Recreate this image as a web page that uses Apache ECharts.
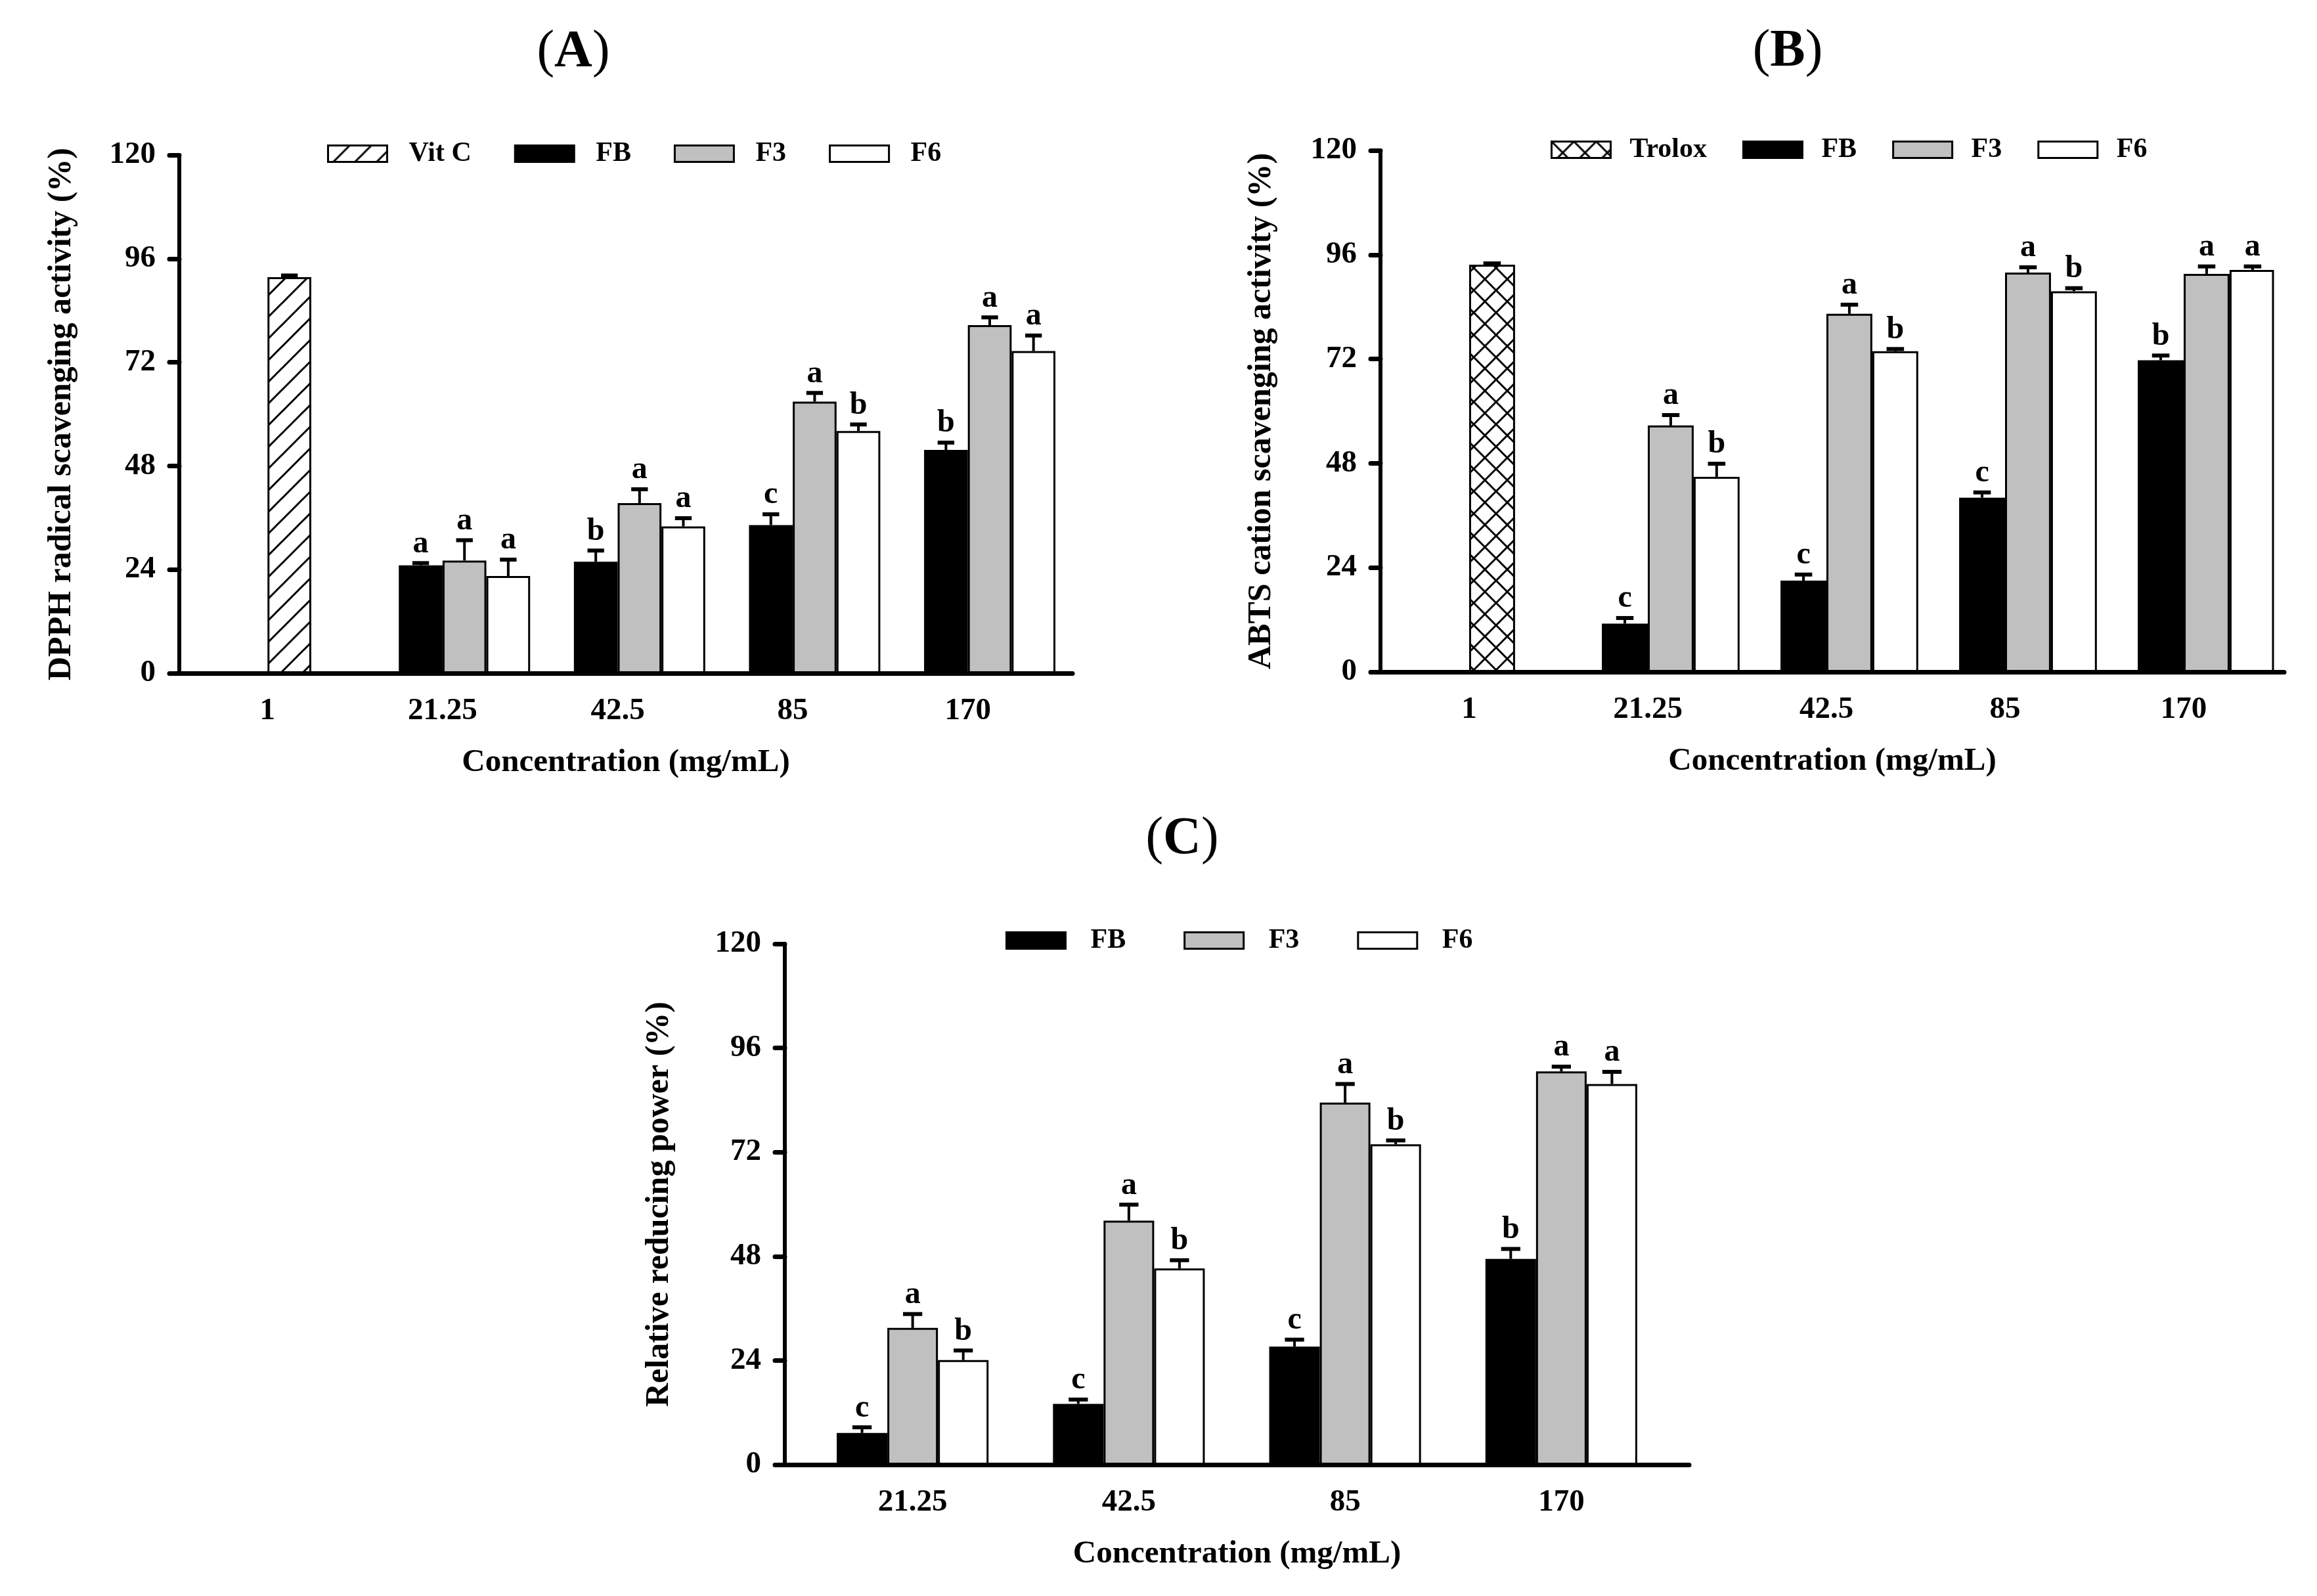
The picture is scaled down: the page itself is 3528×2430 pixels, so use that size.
<!DOCTYPE html>
<html><head><meta charset="utf-8">
<script src="https://cdn.jsdelivr.net/npm/echarts@6/dist/echarts.min.js"></script>
<style>html,body{margin:0;padding:0;background:#fff}#c{width:3528px;height:2430px}</style>
</head><body><div id="c"></div>
<script>
// ---------- DATA ----------
const catsAB = ['1', '21.25', '42.5', '85', '170'];
const catsC = ['21.25', '42.5', '85', '170'];
const yMin = 0, yMax = 120, yStep = 24;

// Panel A - DPPH
const vitC_A = [91.7];      const vitC_A_err = [0.4];
const fb_A = [25.0, 25.8, 34.3, 51.7];  const fb_A_err = [0.5, 2.6, 2.5, 1.7];  const fb_A_let = ['a','b','c','b'];
const f3_A = [26.1, 39.4, 62.9, 80.6];  const f3_A_err = [4.7, 3.2, 2.0, 1.8];  const f3_A_let = ['a','a','a','a'];
const f6_A = [22.5, 34.0, 56.1, 74.6];  const f6_A_err = [3.8, 1.9, 1.5, 3.6];  const f6_A_let = ['a','a','b','a'];

// Panel B - ABTS
const trolox_B = [93.7];    const trolox_B_err = [0.3];
const fb_B = [11.1, 21.0, 40.1, 71.7];  const fb_B_err = [1.3, 1.4, 1.2, 1.1];  const fb_B_let = ['c','c','c','b'];
const f3_B = [56.7, 82.4, 91.9, 91.6];  const f3_B_err = [2.4, 2.1, 1.2, 1.7];  const f3_B_let = ['a','a','a','a'];
const f6_B = [44.9, 73.8, 87.6, 92.5];  const f6_B_err = [3.0, 0.5, 0.7, 0.8];  const f6_B_let = ['b','b','b','a'];

// Panel C - reducing power
const fb_C = [7.3, 14.0, 27.2, 47.4];   const fb_C_err = [1.3, 1.0, 1.6, 2.3];  const fb_C_let = ['c','c','c','b'];
const f3_C = [31.5, 56.2, 83.4, 90.6];  const f3_C_err = [3.2, 3.7, 4.3, 1.1];  const f3_C_let = ['a','a','a','a'];
const f6_C = [24.1, 45.2, 73.8, 87.7];  const f6_C_err = [2.2, 1.9, 0.9, 2.8];  const f6_C_let = ['b','b','b','a'];

// ---------- STYLE ----------
const FONT = 'Liberation Serif';
function hatchPattern(kind) {
  const s = kind === 'cross' ? 34 : 33;
  const c = document.createElement('canvas'); c.width = s; c.height = s;
  const g = c.getContext('2d');
  g.fillStyle = '#fff'; g.fillRect(0, 0, s, s);
  g.strokeStyle = '#000'; g.lineWidth = 3;
  const ln = (a, b, d, e) => { g.beginPath(); g.moveTo(a, b); g.lineTo(d, e); g.stroke(); };
  ln(0, s, s, 0); ln(-2, 2, 2, -2); ln(s - 2, s + 2, s + 2, s - 2);
  if (kind === 'cross') { ln(0, 0, s, s); ln(s - 2, -2, s + 2, 2); ln(-2, s - 2, 2, s + 2); }
  return { image: c, repeat: 'repeat' };
}
const styFB = { color: '#000', borderColor: '#000', borderWidth: 2 };
const styF3 = { color: '#c0c0c0', borderColor: '#000', borderWidth: 3 };
const styF6 = { color: '#fff', borderColor: '#000', borderWidth: 3 };
const styVit = { color: hatchPattern('diag'), borderColor: '#000', borderWidth: 3 };
const styTro = { color: hatchPattern('cross'), borderColor: '#000', borderWidth: 3 };

const txt = (size, w) => ({ fontFamily: FONT, fontWeight: w || 'bold', fontSize: size, color: '#000' });

const panels = [
  { outer: { left: 273, top: 236, width: 1360, height: 789 }, inner: { left: 274, top: 236, width: 1333, height: 789 },
    cats: catsAB, yName: 'DPPH radical scavenging activity (%)', yGap: 154, frac: 0.25 },
  { outer: { left: 2102, top: 229, width: 1376, height: 794 }, inner: { left: 2101, top: 229, width: 1360, height: 794 },
    cats: catsAB, yName: 'ABTS cation scavenging activity (%)', yGap: 156, frac: 0.257 },
  { outer: { left: 1195, top: 1437, width: 1377, height: 793 }, inner: { left: 1225, top: 1437, width: 1317, height: 793 },
    cats: catsC, yName: 'Relative reducing power (%)', yGap: 166, frac: 0.234 }
];

const grid = [], xAxis = [], yAxis = [], series = [];
panels.forEach((p, i) => {
  grid.push(Object.assign({ containLabel: false }, p.outer));
  grid.push(Object.assign({ containLabel: false }, p.inner));
  xAxis.push({ gridIndex: 2 * i, type: 'value', min: 0, max: 1, z: 10,
    axisLine: { show: true, onZero: false, lineStyle: { color: '#000', width: 7, cap: 'round' } },
    axisTick: { show: false }, axisLabel: { show: false }, splitLine: { show: false },
    name: 'Concentration (mg/mL)', nameLocation: 'middle', nameGap: 112, nameTextStyle: txt(49) });
  xAxis.push({ gridIndex: 2 * i + 1, type: 'category', data: p.cats, boundaryGap: true,
    axisLine: { show: false }, axisTick: { show: false },
    axisLabel: Object.assign({ margin: 34, interval: 0 }, txt(47)) });
  yAxis.push({ gridIndex: 2 * i, type: 'value', min: yMin, max: yMax, interval: yStep, z: 10,
    axisLine: { show: true, lineStyle: { color: '#000', width: 6 } },
    axisTick: { show: true, length: 15, lineStyle: { color: '#000', width: 7, cap: 'round' } },
    axisLabel: Object.assign({ margin: 36 }, txt(47)), splitLine: { show: false },
    name: p.yName, nameLocation: 'middle', nameGap: p.yGap, nameTextStyle: txt(50) });
  yAxis.push({ gridIndex: 2 * i + 1, type: 'value', min: yMin, max: yMax, show: false, splitLine: { show: false } });
});

function barSeries(name, axis, data, style, extra) {
  return Object.assign({ type: 'bar', name, xAxisIndex: axis, yAxisIndex: axis, data,
    barWidth: panels[(axis - 1) / 2].frac * 100 + '%', barGap: '0%', itemStyle: style, z: 2,
    animation: false, emphasis: { disabled: true } }, extra || {});
}
const dash = n => Array(n).fill('-');

function errSeries(axis, frac, items) {
  return { type: 'custom', xAxisIndex: axis, yAxisIndex: axis, z: 5, animation: false, silent: true,
    data: items.map(it => [it.cat, it.val + it.err]),
    renderItem: function (params, api) {
      const it = items[params.dataIndex];
      const band = api.size([1, 0])[0];
      const bw = band * frac;
      const p0 = api.coord([it.cat, it.val]);
      const p1 = api.coord([it.cat, it.val + it.err]);
      const x = p0[0] + it.slot * bw;
      const cw = bw * 0.38;
      const ch = [
        { type: 'line', shape: { x1: x, y1: p0[1], x2: x, y2: p1[1] }, style: { stroke: '#000', lineWidth: 4 } },
        { type: 'line', shape: { x1: x - cw / 2, y1: p1[1], x2: x + cw / 2, y2: p1[1] }, style: { stroke: '#000', lineWidth: 6 } }
      ];
      if (it.letter) ch.push({ type: 'text', style: { text: it.letter, x: x, y: p1[1] - 5, align: 'center', verticalAlign: 'bottom',
        fontFamily: FONT, fontWeight: 'bold', fontSize: 48, fill: '#000' } });
      return { type: 'group', children: ch };
    } };
}
function buildItems(groups, catOffset) {
  const out = [];
  groups.forEach(g => g.vals.forEach((v, k) => out.push({ cat: k + catOffset, val: v, err: g.errs[k], slot: g.slot, letter: g.lets ? g.lets[k] : '' })));
  return out;
}

// Panel A
series.push(barSeries('', 1, dash(5), { color: 'transparent' }));
series.push(barSeries('FB', 1, ['-'].concat(fb_A), styFB));
series.push(barSeries('Vit C', 1, vitC_A.concat(dash(4)), styVit, { stack: 'midA' }));
series.push(barSeries('F3', 1, ['-'].concat(f3_A), styF3, { stack: 'midA' }));
series.push(barSeries('F6', 1, ['-'].concat(f6_A), styF6));
series.push(errSeries(1, panels[0].frac,
  buildItems([{ vals: vitC_A, errs: vitC_A_err, slot: 0.5 }], 0).concat(buildItems([
    { vals: fb_A, errs: fb_A_err, lets: fb_A_let, slot: -0.5 },
    { vals: f3_A, errs: f3_A_err, lets: f3_A_let, slot: 0.5 },
    { vals: f6_A, errs: f6_A_err, lets: f6_A_let, slot: 1.5 }], 1))));

// Panel B
series.push(barSeries('', 3, dash(5), { color: 'transparent' }));
series.push(barSeries('FB', 3, ['-'].concat(fb_B), styFB));
series.push(barSeries('Trolox', 3, trolox_B.concat(dash(4)), styTro, { stack: 'midB' }));
series.push(barSeries('F3', 3, ['-'].concat(f3_B), styF3, { stack: 'midB' }));
series.push(barSeries('F6', 3, ['-'].concat(f6_B), styF6));
series.push(errSeries(3, panels[1].frac,
  buildItems([{ vals: trolox_B, errs: trolox_B_err, slot: 0.5 }], 0).concat(buildItems([
    { vals: fb_B, errs: fb_B_err, lets: fb_B_let, slot: -0.5 },
    { vals: f3_B, errs: f3_B_err, lets: f3_B_let, slot: 0.5 },
    { vals: f6_B, errs: f6_B_err, lets: f6_B_let, slot: 1.5 }], 1))));

// Panel C
series.push(barSeries('FB', 5, fb_C, styFB));
series.push(barSeries('F3', 5, f3_C, styF3));
series.push(barSeries('F6', 5, f6_C, styF6));
series.push(errSeries(5, panels[2].frac, buildItems([
  { vals: fb_C, errs: fb_C_err, lets: fb_C_let, slot: -1 },
  { vals: f3_C, errs: f3_C_err, lets: f3_C_let, slot: 0 },
  { vals: f6_C, errs: f6_C_err, lets: f6_C_let, slot: 1 }], 0)));

function legend(left, top, names, gap, pad) {
  return { left, top, data: names, itemWidth: 90, itemHeight: 25, itemGap: gap, selectedMode: false, icon: 'rect',
    itemStyle: { borderColor: '#000', borderWidth: 3 },
    textStyle: Object.assign({ padding: [0, 0, 0, pad] }, txt(42)) };
}

function title(x, y, letter) {
  return { type: 'text', x, y, z: 100, style: { text: '{p|(}{b|' + letter + '}{p|)}', align: 'center', verticalAlign: 'middle',
    rich: { p: { fontFamily: FONT, fontSize: 80, fontWeight: 'normal', fill: '#000' },
            b: { fontFamily: FONT, fontSize: 80, fontWeight: 'bold', fill: '#000' } } } };
}

const chart = echarts.init(document.getElementById('c'), null, { renderer: 'canvas' });
chart.setOption({
  backgroundColor: '#fff',
  animation: false,
  grid, xAxis, yAxis, series,
  legend: [
    legend(493, 208, ['Vit C', 'FB', 'F3', 'F6'], 65, 28),
    legend(2356, 202, ['Trolox', 'FB', 'F3', 'F6'], 54, 24),
    legend(1526, 1406, ['FB', 'F3', 'F6'], 88, 33)
  ],
  graphic: [title(873, 80, 'A'), title(2722, 79, 'B'), title(1800, 1278, 'C')]
});
</script>
</body></html>
